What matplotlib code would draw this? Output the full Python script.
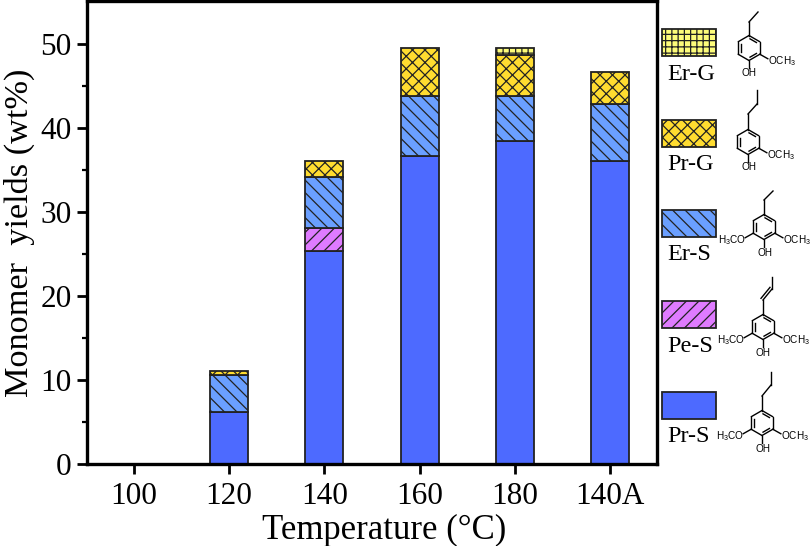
import numpy as np
import matplotlib
matplotlib.use("Agg")
import matplotlib.pyplot as plt
from matplotlib.patches import Rectangle

DPI = 75
S = 100 / DPI  # sizes below are given for 100 dpi

plt.rcParams['font.family'] = ['Liberation Serif', 'DejaVu Serif']
plt.rcParams['hatch.linewidth'] = 0.9 * S
plt.rcParams['mathtext.fontset'] = 'custom'
plt.rcParams['mathtext.rm'] = 'Liberation Sans'

categories = ['100', '120', '140', '160', '180', '140A']
pr_s = [0, 6.2, 25.3, 36.6, 38.4, 36.0]
pe_s = [0, 0, 2.8, 0, 0, 0]
er_s = [0, 4.4, 6.1, 7.2, 5.4, 6.8]
pr_g = [0, 0.5, 1.9, 5.7, 4.9, 3.8]
er_g = [0, 0, 0, 0, 0.8, 0]
series_names = ['Pr-S', 'Pe-S', 'Er-S', 'Pr-G', 'Er-G']
series_values = [pr_s, pe_s, er_s, pr_g, er_g]

colors = ['#4d6aff', '#df7bff', '#6a9fff', '#ffdc30', '#fdfc7a']
hatches = ['', '//', '\\\\', 'xx', '++']
EDGE = '#222222'

fig = plt.figure(figsize=(810 / DPI, 546 / DPI), dpi=DPI)
ax = fig.add_axes([87/810, 1-464/546, 570/810, 463/546])
x = np.arange(len(categories))
bottom = np.zeros(len(categories))
for vals, c, h in zip(series_values, colors, hatches):
    v = np.array(vals, float)
    m = v > 0
    ax.bar(x[m], v[m], 0.4, bottom=bottom[m], color=c, hatch=h, edgecolor=EDGE, linewidth=1.3 * S)
    bottom += v

ax.set_xlim(-0.49, 5.49)
ax.set_ylim(0, 55.1)
ax.set_xticks(x, categories)
ax.set_yticks(np.arange(0, 51, 10))
ax.set_yticks(np.arange(5, 55, 10), minor=True)
ax.tick_params(axis='both', which='major', width=2 * S, length=7 * S, labelsize=22.5 * S, pad=6 * S)
ax.tick_params(axis='y', which='major', pad=4 * S)
ax.tick_params(axis='y', which='minor', width=1.6 * S, length=3.5 * S)
for s in ax.spines.values():
    s.set_linewidth(2.4 * S)
ax.set_xlabel('Temperature (°C)', fontsize=25 * S, labelpad=2 * S, x=(384 - 87) / 570)
ax.set_ylabel('Monomer  yields (wt%)', fontsize=24.7 * S, labelpad=4 * S, y=(464 - 233) / 463)

# overlay in pixel coordinates for the hand-placed key and structures
ov = fig.add_axes([0, 0, 1, 1])
ov.set_xlim(0, 810)
ov.set_ylim(546, 0)
ov.axis('off')
ov.patch.set_alpha(0)

key_tops = [392, 301, 210, 120, 29]
for name, c, h, yt in zip(series_names, colors, hatches, key_tops):
    ov.add_patch(Rectangle((662, yt), 54, 27, facecolor=c, hatch=h, edgecolor=EDGE, linewidth=1.3 * S))
    ov.text(667, yt + 45, name, fontsize=17.5 * S, ha='left', va='center')


def mol(cx, cy, chain, left_ome, dbl=None):
    r = 12.5
    ang = np.deg2rad(np.arange(6) * 60 - 90)
    px = cx + r * np.cos(ang)
    py = cy + r * np.sin(ang)
    lw = 1.0 * S
    k = 'black'
    fs = 7.2 * S
    for i in range(6):
        j = (i + 1) % 6
        ov.plot([px[i], px[j]], [py[i], py[j]], color=k, lw=lw, solid_capstyle='round')
    for i in (0, 2, 4):
        j = i + 1
        a = np.array([px[i], py[i]]) * 0.78 + np.array([cx, cy]) * 0.22
        b = np.array([px[j], py[j]]) * 0.78 + np.array([cx, cy]) * 0.22
        a2 = a + (b - a) * 0.12
        b2 = b - (b - a) * 0.12
        ov.plot([a2[0], b2[0]], [a2[1], b2[1]], color=k, lw=lw)
    pts = [(px[0], py[0])] + [(cx + dx, cy + dy) for dx, dy in chain]
    for n in range(len(pts) - 1):
        ov.plot([pts[n][0], pts[n + 1][0]], [pts[n][1], pts[n + 1][1]], color=k, lw=lw)
    if dbl is not None:
        p, q = np.array(pts[dbl]), np.array(pts[dbl + 1])
        d = q - p
        nrm = np.array([d[1], -d[0]]) / np.hypot(*d) * 2.6
        ov.plot([p[0] + nrm[0], q[0] + nrm[0]], [p[1] + nrm[1], q[1] + nrm[1]], color=k, lw=lw)
    ov.plot([px[3], px[3]], [py[3], py[3] + 7], color=k, lw=lw)
    ov.text(cx + 0.5, cy + 25.5, 'OH', fontsize=fs, family='Liberation Sans', ha='center', va='center')
    ov.plot([px[2], px[2] + 8], [py[2], py[2] + 4.5], color=k, lw=lw)
    ov.text(px[2] + 8, py[2] + 7, 'OCH$_3$', fontsize=fs, family='Liberation Sans', ha='left', va='center')
    if left_ome:
        ov.plot([px[4], px[4] - 8], [py[4], py[4] + 4.5], color=k, lw=lw)
        ov.text(px[4] - 7.5, py[4] + 7, 'H$_3$CO', fontsize=fs, family='Liberation Sans', ha='right', va='center')


mol(749, 48, [(0, -26), (9, -36)], False)
mol(748, 142, [(0, -28), (9, -38), (9, -52)], False)
mol(764, 227, [(0, -27), (9, -36)], True)
mol(763, 327, [(0, -27), (9, -38), (9, -50)], True, dbl=1)
mol(762, 423, [(0, -27), (9, -38), (9, -51)], True)

fig.savefig('out.png', dpi=DPI)
